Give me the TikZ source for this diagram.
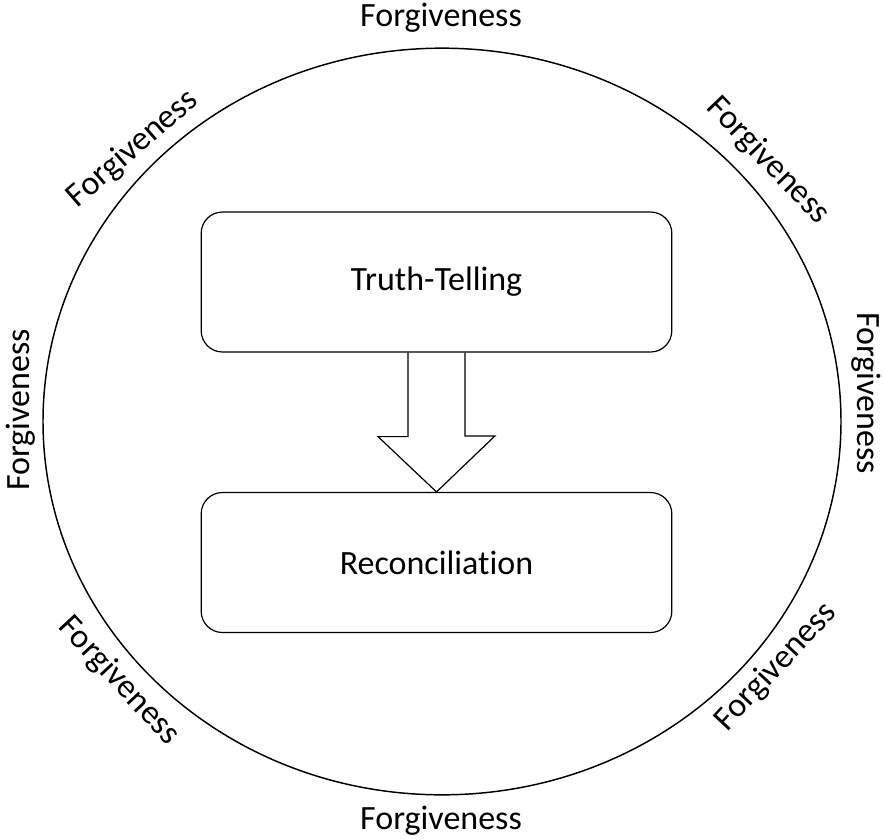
\documentclass[tikz,border=0pt]{standalone}
\usepackage{fontspec}
\setmainfont{Carlito}[Ligatures=NoCommon]
\usetikzlibrary{calc,shapes.geometric}

\begin{document}
\begin{tikzpicture}[
			x=0.75pt, y=-0.75pt,
			every node/.style={font=\fontsize{25.5}{30}\selectfont, inner sep=0pt},
			stage/.style={draw, rounded corners=16pt, line width=0.9pt, minimum width=353pt, minimum height=105pt},
			ring/.style={draw, ellipse, line width=1.1pt, minimum width=598.5pt, minimum height=560pt}
		]

		\useasboundingbox (0,0) rectangle (883,840);

		\node[ring] (r) at (442,421.5) {};

		\node[stage] (t) at (436.5,282) {Truth-Telling};
		\node[stage] (c) at (436.5,562.5) {Reconciliation};

		\draw[line width=0.9pt] ($(t.south)+(-28.5,0)$) -- ++(0,84) -- ++(-30,0)
			-- (c.north) -- ++(58.5,-56) -- ++(-30,0) -- ($(t.south)+(28.5,0)$);

		\node (f1) at (441,18) {Forgiveness};
		\node[rotate=41] (f2) at (133,149) {Forgiveness};
		\node[rotate=-46] (f3) at (768,161) {Forgiveness};
		\node[rotate=90] (f4) at (21,410) {Forgiveness};
		\node[rotate=-90] (f5) at (866,393) {Forgiveness};
		\node[rotate=-47] (f6) at (119,681) {Forgiveness};
		\node[rotate=47] (f7) at (776,667) {Forgiveness};
		\node (f8) at (441,821) {Forgiveness};

	\end{tikzpicture}
\end{document}
